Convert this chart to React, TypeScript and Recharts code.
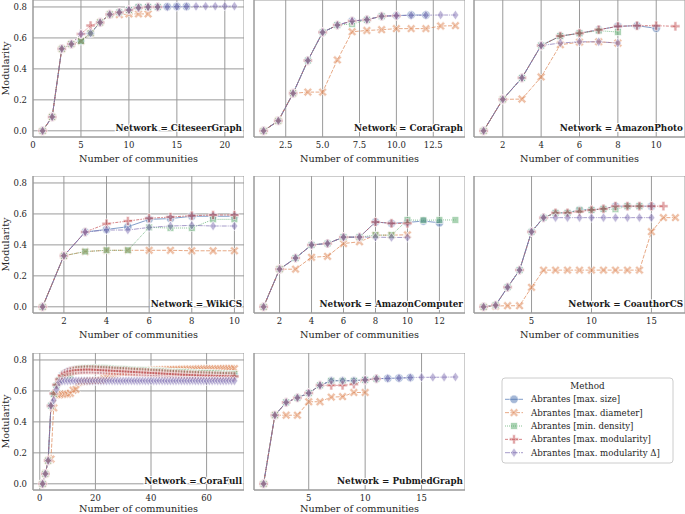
import React from 'react';
import { LineChart, Line, XAxis, YAxis, CartesianGrid, Label } from 'recharts';

const methods = [
  'Abrantes [max. size]',
  'Abrantes [max. diameter]',
  'Abrantes [min. density]',
  'Abrantes [max. modularity]',
  'Abrantes [max. modularity Δ]',
];
const colors = ['#4c72b0', '#dd8452', '#55a868', '#c44e52', '#8172b3'];
const dashes = ['', '4 1.5', '1 1', '3 1.25 1.5 1.25', '5 1 1 1'];
const markers = ['circle', 'x', 'square', 'plus', 'diamond'];

const yTicks = [0, 0.2, 0.4, 0.6, 0.8];

// modularity for 1, 2, 3 ... communities
// order in every list: max. size, max. diameter, min. density, max. modularity, max. modularity Δ
const citeseer = [
  [0, 0.09, 0.53, 0.56, 0.58, 0.63, 0.70, 0.752, 0.765, 0.78, 0.80, 0.80, 0.80, 0.802, 0.803, 0.803],
  [0, 0.09, 0.53, 0.56, 0.58, 0.63, 0.70, 0.752, 0.75, 0.755, 0.755, 0.755],
  [0, 0.09, 0.53, 0.56, 0.58, 0.63, 0.70, 0.752, 0.765, 0.78, 0.80, 0.80, 0.80],
  [0, 0.09, 0.53, 0.56, 0.625, 0.68, 0.70, 0.752, 0.765, 0.78, 0.795, 0.80, 0.80],
  [0, 0.09, 0.53, 0.56, 0.625, 0.63, 0.70, 0.752, 0.765, 0.78, 0.795, 0.80, 0.80, 0.80, 0.802, 0.803, 0.804, 0.805, 0.805, 0.805, 0.805],
];

const cora = [
  [0, 0.065, 0.242, 0.454, 0.636, 0.683, 0.709, 0.718, 0.74, 0.744, 0.748, 0.748],
  [0, 0.065, 0.242, 0.25, 0.25, 0.458, 0.64, 0.648, 0.653, 0.66, 0.66, 0.66, 0.677, 0.679],
  [0, 0.065, 0.242, 0.454, 0.636, 0.683, 0.69, 0.718, 0.74],
  [0, 0.065, 0.242, 0.454, 0.636, 0.683, 0.709, 0.718, 0.74, 0.744],
  [0, 0.065, 0.242, 0.454, 0.636, 0.683, 0.709, 0.718, 0.74, 0.744, 0.746, 0.747, 0.748, 0.748],
];

const amazonPhoto = [
  [0, 0.203, 0.342, 0.551, 0.612, 0.63, 0.653, 0.675, 0.679, 0.662],
  [0, 0.203, 0.205, 0.348, 0.556, 0.573, 0.575, 0.567],
  [0, 0.203, 0.342, 0.551, 0.612, 0.63, 0.647, 0.638],
  [0, 0.203, 0.342, 0.551, 0.612, 0.63, 0.653, 0.675, 0.679, 0.679, 0.675],
  [0, 0.203, 0.342, 0.551, 0.567, 0.575, 0.575, 0.567],
];

const wikiCS = [
  [0, 0.33, 0.483, 0.50, 0.517, 0.565, 0.57, 0.585, 0.585, 0.585],
  [0, 0.33, 0.357, 0.365, 0.365, 0.365, 0.365, 0.362, 0.362, 0.362],
  [0, 0.33, 0.357, 0.365, 0.365, 0.513, 0.509, 0.509, 0.565, 0.565],
  [0, 0.33, 0.483, 0.537, 0.554, 0.572, 0.58, 0.589, 0.593, 0.593],
  [0, 0.33, 0.483, 0.496, 0.496, 0.513, 0.522, 0.526, 0.522, 0.522],
];

const amazonComputer = [
  [0, 0.243, 0.315, 0.40, 0.409, 0.45, 0.45, 0.548, 0.539, 0.545, 0.554, 0.543],
  [0, 0.243, 0.243, 0.32, 0.326, 0.409, 0.42, 0.463, 0.463, 0.465],
  [0, 0.243, 0.315, 0.40, 0.409, 0.45, 0.45, 0.463, 0.463, 0.561, 0.559, 0.561, 0.561],
  [0, 0.243, 0.315, 0.40, 0.409, 0.45, 0.45, 0.548, 0.539, 0.539],
  [0, 0.243, 0.315, 0.40, 0.409, 0.45, 0.45, 0.45, 0.448, 0.448],
];

const coauthorCS = [
  [0, 0.01, 0.126, 0.237, 0.485, 0.576, 0.607, 0.607, 0.626, 0.626, 0.633, 0.65, 0.65, 0.65, 0.65],
  [0, 0.005, 0.007, 0.007, 0.126, 0.237, 0.237, 0.237, 0.237, 0.237, 0.237, 0.237, 0.237, 0.237, 0.485, 0.576, 0.576],
  [0, 0.01, 0.126, 0.237, 0.485, 0.576, 0.607, 0.607, 0.626, 0.626, 0.633, 0.63, 0.65, 0.65],
  [0, 0.01, 0.126, 0.237, 0.485, 0.576, 0.607, 0.607, 0.615, 0.626, 0.633, 0.65, 0.65, 0.65, 0.65, 0.65],
  [0, 0.01, 0.126, 0.237, 0.485, 0.576, 0.576, 0.576, 0.576, 0.576, 0.576, 0.576, 0.576, 0.576, 0.576],
];

const coraFull = [
  [
    0, 0.065, 0.15, 0.505, 0.58, 0.635, 0.67, 0.70, 0.715, 0.725,
    0.73, 0.735, 0.738, 0.74, 0.741, 0.742, 0.742, 0.743, 0.743, 0.743,
    0.742, 0.742, 0.741, 0.74, 0.739, 0.738, 0.737, 0.736, 0.735, 0.734,
    0.733, 0.732, 0.731, 0.73, 0.729, 0.728, 0.727, 0.726, 0.725, 0.724,
    0.723, 0.722, 0.721, 0.72, 0.719, 0.718, 0.717, 0.716, 0.715, 0.714,
    0.713, 0.712, 0.711, 0.71, 0.709, 0.708, 0.707, 0.706, 0.706, 0.705,
    0.705, 0.704, 0.703, 0.703, 0.702, 0.702, 0.701, 0.701, 0.70, 0.70,
  ],
  [
    0, 0.065, 0.15, 0.16, 0.49, 0.575, 0.575, 0.578, 0.58, 0.58,
    0.585, 0.605, 0.61, 0.655, 0.66, 0.662, 0.663, 0.665, 0.666, 0.667,
    0.668, 0.67, 0.68, 0.69, 0.70, 0.705, 0.71, 0.715, 0.72, 0.722,
    0.725, 0.727, 0.728, 0.729, 0.73, 0.731, 0.732, 0.733, 0.733, 0.734,
    0.735, 0.735, 0.736, 0.736, 0.737, 0.737, 0.738, 0.738, 0.739, 0.739,
    0.74, 0.74, 0.74, 0.741, 0.741, 0.741, 0.742, 0.742, 0.742, 0.742,
    0.743, 0.743, 0.743, 0.743, 0.743, 0.744, 0.744, 0.744, 0.744, 0.744,
  ],
  [
    0, 0.065, 0.15, 0.505, 0.58, 0.635, 0.67, 0.69, 0.69, 0.695,
    0.70, 0.73, 0.74, 0.745, 0.747, 0.748, 0.749, 0.75, 0.75, 0.751,
    0.75, 0.749, 0.748, 0.747, 0.746, 0.745, 0.744, 0.743, 0.742, 0.741,
    0.74, 0.739, 0.738, 0.737, 0.736, 0.735, 0.734, 0.733, 0.732, 0.731,
    0.73, 0.729, 0.728, 0.727, 0.726, 0.725, 0.724, 0.723, 0.722, 0.722,
    0.721, 0.72, 0.72, 0.719, 0.718, 0.718, 0.717, 0.716, 0.716, 0.715,
    0.715, 0.714, 0.714, 0.713, 0.713, 0.712, 0.712, 0.711, 0.711, 0.71,
  ],
  [
    0, 0.065, 0.15, 0.505, 0.583, 0.64, 0.675, 0.70, 0.712, 0.72,
    0.726, 0.73, 0.733, 0.735, 0.736, 0.737, 0.738, 0.738, 0.738, 0.737,
    0.736, 0.735, 0.734, 0.733, 0.732, 0.731, 0.73, 0.729, 0.728, 0.727,
    0.726, 0.725, 0.724, 0.723, 0.722, 0.721, 0.72, 0.719, 0.718, 0.717,
    0.716, 0.715, 0.714, 0.713, 0.712, 0.711, 0.71, 0.709, 0.708, 0.707,
    0.706, 0.705, 0.704, 0.704, 0.703, 0.702, 0.701, 0.70, 0.70, 0.699,
    0.699, 0.698, 0.698, 0.697, 0.697, 0.696, 0.696, 0.695, 0.695, 0.694,
  ],
  [
    0, 0.065, 0.15, 0.505, 0.54, 0.61, 0.655, 0.663, 0.665, 0.665,
    0.665, 0.666, 0.665, 0.665, 0.666, 0.665, 0.665, 0.664, 0.665, 0.665,
    0.666, 0.665, 0.665, 0.665, 0.666, 0.665, 0.665, 0.665, 0.664, 0.665,
    0.665, 0.666, 0.665, 0.665, 0.665, 0.665, 0.666, 0.665, 0.665, 0.665,
    0.665, 0.665, 0.666, 0.665, 0.665, 0.664, 0.665, 0.665, 0.665, 0.666,
    0.665, 0.665, 0.665, 0.665, 0.666, 0.665, 0.665, 0.665, 0.665, 0.664,
    0.665, 0.665, 0.666, 0.665, 0.665, 0.665, 0.665, 0.666, 0.665, 0.665,
  ],
];

const pubmed = [
  [0, 0.443, 0.526, 0.556, 0.586, 0.636, 0.666, 0.666, 0.666, 0.672, 0.679, 0.681, 0.683, 0.686],
  [0, 0.443, 0.443, 0.443, 0.53, 0.53, 0.56, 0.563, 0.59, 0.59],
  [0, 0.443, 0.526, 0.556, 0.586, 0.636, 0.666, 0.666, 0.666, 0.672, 0.679],
  [0, 0.443, 0.526, 0.556, 0.586, 0.636, 0.636, 0.636, 0.643, 0.67, 0.679],
  [0, 0.443, 0.526, 0.556, 0.586, 0.636, 0.666, 0.666, 0.666, 0.672, 0.679, 0.681, 0.683, 0.686, 0.688, 0.688, 0.689, 0.69],
];

const panels = [
  { name: 'CiteseerGraph', series: citeseer, xDomain: [0, 22], xTicks: [0, 5, 10, 15, 20], decimals: 0 },
  { name: 'CoraGraph', series: cora, xDomain: [0.35, 14.65], xTicks: [2.5, 5, 7.5, 10, 12.5], decimals: 1 },
  { name: 'AmazonPhoto', series: amazonPhoto, xDomain: [0.5, 11.5], xTicks: [2, 4, 6, 8, 10], decimals: 0 },
  { name: 'WikiCS', series: wikiCS, xDomain: [0.55, 10.45], xTicks: [2, 4, 6, 8, 10], decimals: 0 },
  { name: 'AmazonComputer', series: amazonComputer, xDomain: [0.4, 13.6], xTicks: [2, 4, 6, 8, 10, 12], decimals: 0 },
  { name: 'CoauthorCS', series: coauthorCS, xDomain: [0.2, 17.8], xTicks: [5, 10, 15], decimals: 0 },
  { name: 'CoraFull', series: coraFull, xDomain: [-2.45, 73.45], xTicks: [0, 20, 40, 60], decimals: 0 },
  { name: 'PubmedGraph', series: pubmed, xDomain: [0.15, 18.85], xTicks: [5, 10, 15], decimals: 0 },
];

const COL_LEFT = [33, 254, 474];
const ROW_TOP = [0, 176, 353];
const PLOT_W = 211;
const PLOT_H = 137;
const AXIS_W = 33;
const AXIS_H = 30;
const FONT = '"DejaVu Serif", serif';
const GRID = '#9a9a9a';

const plusPoints = (r: number, a: number) =>
  [
    [-a, -r], [a, -r], [a, -a], [r, -a], [r, a], [a, a],
    [a, r], [-a, r], [-a, a], [-r, a], [-r, -a], [-a, -a],
  ].map((p) => p.join(',')).join(' ');

function Marker({ cx, cy, kind, color }: { cx: number; cy: number; kind: string; color: string }) {
  const style = { fill: color, fillOpacity: 0.5, stroke: '#fff', strokeWidth: 0.6 };
  if (cx == null || cy == null) return null;
  switch (kind) {
    case 'circle':
      return <circle cx={cx} cy={cy} r={4.2} {...style} />;
    case 'x':
      return <polygon points={plusPoints(4.8, 1.4)} transform={`translate(${cx},${cy}) rotate(45)`} {...style} />;
    case 'square':
      return <rect x={cx - 3.4} y={cy - 3.4} width={6.8} height={6.8} {...style} />;
    case 'plus':
      return <polygon points={plusPoints(4.6, 1.5)} transform={`translate(${cx},${cy})`} {...style} />;
    default:
      return (
        <polygon
          points={`0,-4.8 3.4,0 0,4.8 -3.4,0`}
          transform={`translate(${cx},${cy})`}
          {...style}
        />
      );
  }
}

function Panel({ panel, index }: { panel: (typeof panels)[number]; index: number }) {
  const row = Math.floor(index / 3);
  const col = index % 3;
  const showY = col === 0;
  const fmt = (v: number) => v.toFixed(panel.decimals);
  // the last row sits at the page bottom, keep its axis title inside
  const xLabelY = row === 2 ? PLOT_H + 22 : PLOT_H + 24.5;
  return (
    <div style={{ position: 'absolute', left: COL_LEFT[col] - AXIS_W, top: ROW_TOP[row] }}>
      <LineChart
        width={AXIS_W + PLOT_W}
        height={PLOT_H + AXIS_H}
        margin={{ top: 0, right: 0, bottom: 0, left: 0 }}
      >
        <CartesianGrid stroke={GRID} strokeWidth={1} />
        <XAxis
          type="number"
          dataKey="x"
          domain={panel.xDomain}
          ticks={panel.xTicks}
          interval={0}
          allowDataOverflow
          height={AXIS_H}
          tickLine={false}
          tickSize={0}
          tickMargin={5}
          axisLine={{ stroke: GRID }}
          tickFormatter={fmt}
          tick={{ fontSize: 8.5, fill: '#262626', fontFamily: FONT }}
        >
          <Label
            content={() => (
              <g>
                <text
                  x={AXIS_W + PLOT_W / 2}
                  y={xLabelY}
                  textAnchor="middle"
                  fontSize={9.7}
                  fontFamily={FONT}
                  fill="#262626"
                >
                  Number of communities
                </text>
                <text
                  x={AXIS_W + PLOT_W - 2}
                  y={PLOT_H - 6.5}
                  textAnchor="end"
                  fontSize={8.8}
                  fontWeight="bold"
                  fontFamily={FONT}
                  fill="#1a1a1a"
                  stroke="#fff"
                  strokeWidth={2}
                  paintOrder="stroke"
                >
                  {`Network = ${panel.name}`}
                </text>
              </g>
            )}
          />
        </XAxis>
        <YAxis
          type="number"
          domain={[-0.04, 0.845]}
          ticks={yTicks}
          interval={0}
          allowDataOverflow
          width={AXIS_W}
          tickLine={false}
          tickSize={0}
          tickMargin={6}
          axisLine={{ stroke: GRID }}
          tickFormatter={(v: number) => v.toFixed(1)}
          tick={showY ? { fontSize: 8.5, fill: '#262626', fontFamily: FONT } : false}
        >
          {showY && (
            <Label
              content={() => (
                <text
                  x={9}
                  y={PLOT_H / 2}
                  transform={`rotate(-90, 9, ${PLOT_H / 2})`}
                  textAnchor="middle"
                  fontSize={9.7}
                  fontFamily={FONT}
                  fill="#262626"
                >
                  Modularity
                </text>
              )}
            />
          )}
        </YAxis>
        {panel.series.map((values, i) => (
          <Line
            key={methods[i]}
            name={methods[i]}
            data={values.map((v, k) => ({ x: k + 1, y: v }))}
            dataKey="y"
            type="linear"
            stroke={colors[i]}
            strokeOpacity={0.7}
            strokeWidth={1}
            strokeDasharray={dashes[i]}
            isAnimationActive={false}
            activeDot={false}
            dot={(p: any) => (
              <Marker key={`${i}-${p.index}`} cx={p.cx} cy={p.cy} kind={markers[i]} color={colors[i]} />
            )}
          />
        ))}
      </LineChart>
    </div>
  );
}

function MethodLegend() {
  const top = 378;
  const left = 502;
  return (
    <svg
      width={685}
      height={514}
      style={{ position: 'absolute', left: 0, top: 0, pointerEvents: 'none' }}
    >
      <rect x={left} y={top} width={171} height={85} rx={3} fill="#fff" stroke="#cccccc" strokeWidth={1} />
      <text x={left + 85.5} y={top + 11} textAnchor="middle" fontSize={8.8} fontFamily={FONT} fill="#262626">
        Method
      </text>
      {methods.map((m, i) => {
        const y = 399.3 + i * 13.35;
        return (
          <g key={m}>
            <line
              x1={505}
              x2={523}
              y1={y}
              y2={y}
              stroke={colors[i]}
              strokeOpacity={0.7}
              strokeWidth={1}
              strokeDasharray={dashes[i]}
            />
            <Marker cx={514} cy={y} kind={markers[i]} color={colors[i]} />
            <text x={531} y={y + 3} fontSize={8.6} fontFamily={FONT} fill="#262626">
              {m}
            </text>
          </g>
        );
      })}
    </svg>
  );
}

export default function App() {
  return (
    <div
      style={{
        position: 'absolute',
        left: 0,
        top: 0,
        width: 685,
        height: 514,
        background: '#fff',
        overflow: 'hidden',
      }}
    >
      {panels.map((p, i) => (
        <Panel key={p.name} panel={p} index={i} />
      ))}
      <MethodLegend />
    </div>
  );
}
